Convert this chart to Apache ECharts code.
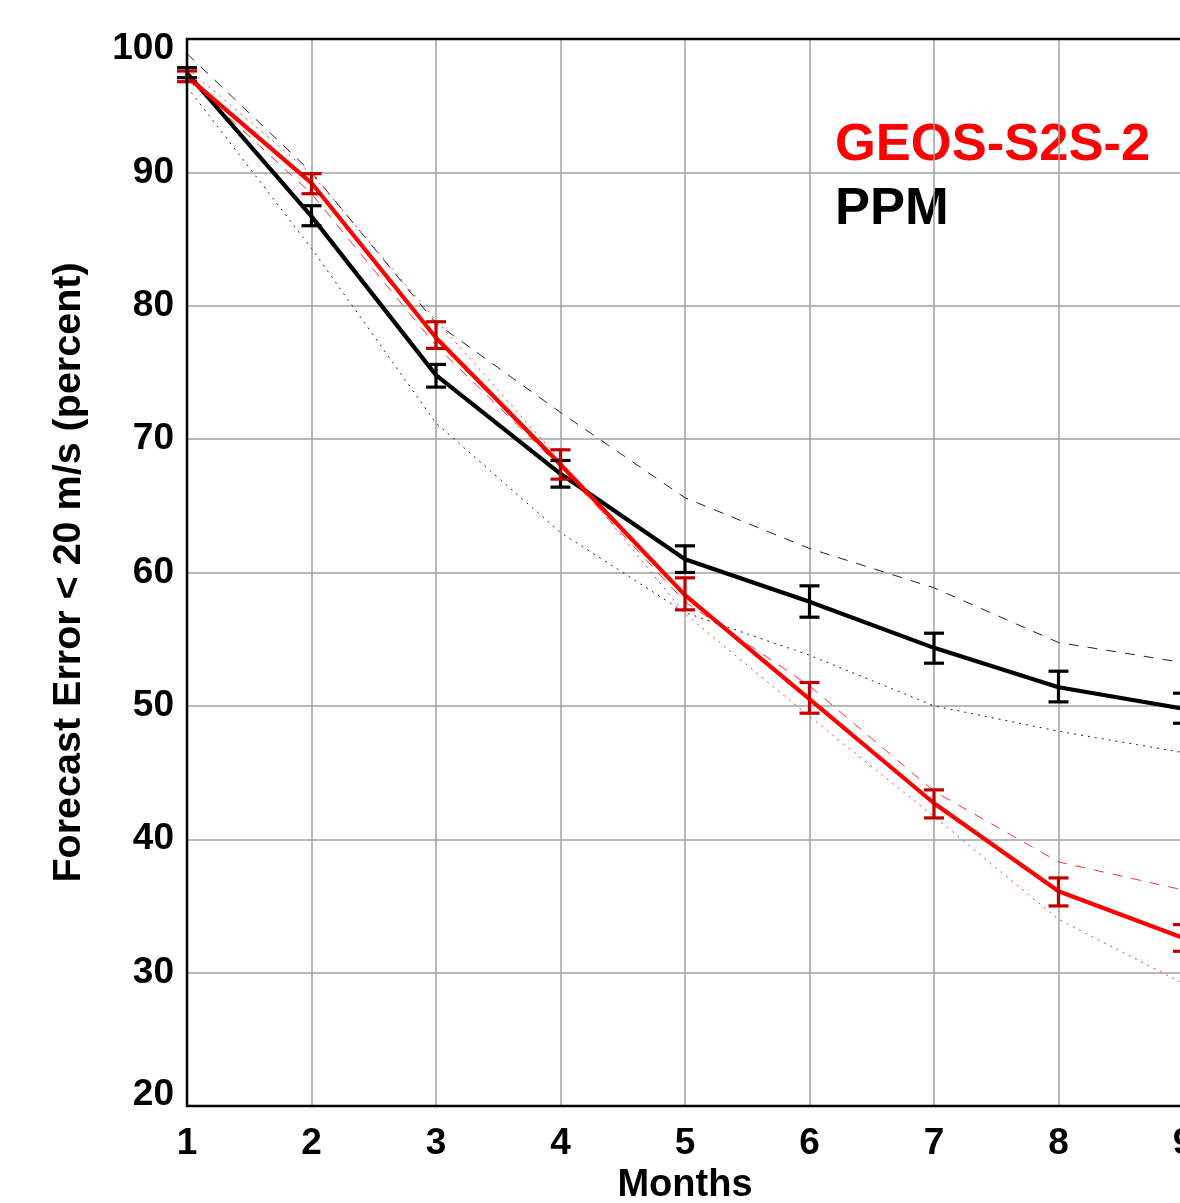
<!DOCTYPE html>
<html>
<head>
<meta charset="utf-8">
<script src="https://cdn.jsdelivr.net/npm/echarts@6/dist/echarts.min.js"></script>
<style>
html,body{margin:0;padding:0;background:#fff;}
#chart{width:1180px;height:1203px;}
</style>
</head>
<body>
<div id="chart"></div>
<script>
// ---- data ----
var months = [1, 2, 3, 4, 5, 6, 7, 8, 9];

var geosMean  = [97.2, 89.2, 77.6, 68.1, 58.3, 50.5, 42.7, 36.1, 32.6];
var geosLow   = [96.8, 88.4, 76.8, 67.0, 57.2, 49.45, 41.6, 35.0, 31.6];
var geosHigh  = [97.6, 89.9, 78.8, 69.2, 59.6, 51.75, 43.7, 37.1, 33.6];
var geosDash  = [97.0, 88.4, 77.0, 67.9, 57.8, 51.5, 43.6, 38.3, 36.2];
var geosDot   = [97.8, 89.9, 78.9, 68.4, 56.9, 49.2, 41.7, 34.0, 29.2];

var ppmMean   = [97.45, 86.7, 74.8, 67.4, 61.0, 57.8, 54.35, 51.4, 49.8];
var ppmLow    = [97.1, 86.0, 73.9, 66.4, 60.0, 56.65, 53.2, 50.3, 48.7];
var ppmHigh   = [97.85, 87.5, 75.6, 68.4, 62.0, 59.0, 55.45, 52.6, 50.95];
var ppmDash   = [98.9, 90.0, 78.7, 72.0, 65.6, 61.8, 58.85, 54.75, 53.25];
var ppmDot    = [96.4, 84.3, 71.2, 63.0, 57.0, 53.8, 50.0, 48.1, 46.5];

var yTicks = [20, 30, 40, 50, 60, 70, 80, 90, 100];
var legendNames = ['GEOS-S2S-2', 'PPM'];

// ---- helpers ----
function pairs(vals) { return months.map(function (m, i) { return [m, vals[i]]; }); }
function bars(lo, hi) { return months.map(function (m, i) { return [m, lo[i], hi[i]]; }); }
function errorRender(color) {
  return function (params, api) {
    var x = api.value(0);
    var p1 = api.coord([x, api.value(1)]);
    var p2 = api.coord([x, api.value(2)]);
    var hw = 10;
    var st = { stroke: color, lineWidth: 3.2 };
    return {
      type: 'group',
      children: [
        { type: 'line', shape: { x1: p1[0], y1: p1[1], x2: p2[0], y2: p2[1] }, style: st },
        { type: 'line', shape: { x1: p1[0] - hw, y1: p1[1], x2: p1[0] + hw, y2: p1[1] }, style: st },
        { type: 'line', shape: { x1: p2[0] - hw, y1: p2[1], x2: p2[0] + hw, y2: p2[1] }, style: st }
      ]
    };
  };
}
function thin(name, vals, color, type) {
  return {
    name: name, type: 'line', data: pairs(vals), symbol: 'none', silent: true,
    lineStyle: { color: color, width: 1, type: type }, z: 2, animation: false
  };
}

var FONT = '"Liberation Sans", Arial, Helvetica, sans-serif';
var chart = echarts.init(document.getElementById('chart'), null, { renderer: 'canvas' });

chart.setOption({
  animation: false,
  backgroundColor: '#ffffff',
  grid: {
    left: 187, top: 39, width: 996, height: 1067,
    outerBoundsMode: 'none', containLabel: false,
    show: true, borderColor: '#000', borderWidth: 2.5, backgroundColor: 'transparent', z: 10
  },
  xAxis: {
    type: 'value', min: 1, max: 9, interval: 1,
    name: 'Months', nameLocation: 'middle', nameGap: 58,
    nameTextStyle: { fontSize: 38, fontWeight: 'bold', color: '#000', fontFamily: FONT },
    axisLine: { show: false }, axisTick: { show: false },
    axisLabel: { fontSize: 37, fontWeight: 'bold', color: '#000', fontFamily: FONT, margin: 19, hideOverlap: false, showMaxLabel: true, showMinLabel: true },
    splitLine: { show: true, lineStyle: { color: '#a0a0a0', width: 1.5 } }
  },
  yAxis: {
    type: 'value', min: yTicks[0], max: yTicks[yTicks.length - 1], interval: 10,
    name: 'Forecast Error < 20 m/s (percent)', nameLocation: 'middle', nameGap: 98, nameRotate: 90,
    nameTextStyle: { fontSize: 39.5, fontWeight: 'bold', color: '#000', fontFamily: FONT },
    axisLine: { show: false }, axisTick: { show: false },
    axisLabel: {
      fontSize: 37, fontWeight: 'bold', color: '#000', fontFamily: FONT, margin: 13,
      showMaxLabel: true, showMinLabel: true,
      formatter: function (v) {
        if (v === yTicks[yTicks.length - 1]) return '{top|' + v + '}';
        if (v === yTicks[0]) return '{bot|' + v + '}';
        return '{n|' + v + '}';
      },
      rich: {
        n: { fontSize: 37, fontWeight: 'bold', fontFamily: FONT, color: '#000' },
        top: { fontSize: 37, fontWeight: 'bold', fontFamily: FONT, color: '#000', padding: [20, 0, 0, 0] },
        bot: { fontSize: 37, fontWeight: 'bold', fontFamily: FONT, color: '#000', padding: [0, 0, 22, 0] }
      }
    },
    splitLine: { show: true, lineStyle: { color: '#a0a0a0', width: 1.5 } }
  },
  graphic: [
    { type: 'text', left: 835, top: 119, style: { text: legendNames[0], fill: '#ff0000', font: 'bold 52.5px ' + FONT } },
    { type: 'text', left: 835, top: 183, style: { text: legendNames[1], fill: '#000000', font: 'bold 52.5px ' + FONT } }
  ],
  series: [
    thin('PPM upper', ppmDash, '#222222', [10, 9]),
    thin('PPM lower', ppmDot, '#222222', [2, 5]),
    thin('GEOS upper', geosDash, '#ff3030', [10, 9]),
    thin('GEOS lower', geosDot, '#ff3030', [2, 5]),
    {
      name: 'PPM', type: 'line', data: pairs(ppmMean), symbol: 'none',
      lineStyle: { color: '#000000', width: 4.2 }, z: 3
    },
    {
      name: 'GEOS-S2S-2', type: 'line', data: pairs(geosMean), symbol: 'none',
      lineStyle: { color: '#ff0000', width: 4.2 }, z: 4
    },
    {
      name: 'PPM err', type: 'custom', data: bars(ppmLow, ppmHigh),
      encode: { x: 0, y: [1, 2] }, renderItem: errorRender('#000000'), z: 5
    },
    {
      name: 'GEOS err', type: 'custom', data: bars(geosLow, geosHigh),
      encode: { x: 0, y: [1, 2] }, renderItem: errorRender('#c00000'), z: 6
    }
  ]
});
</script>
</body>
</html>
